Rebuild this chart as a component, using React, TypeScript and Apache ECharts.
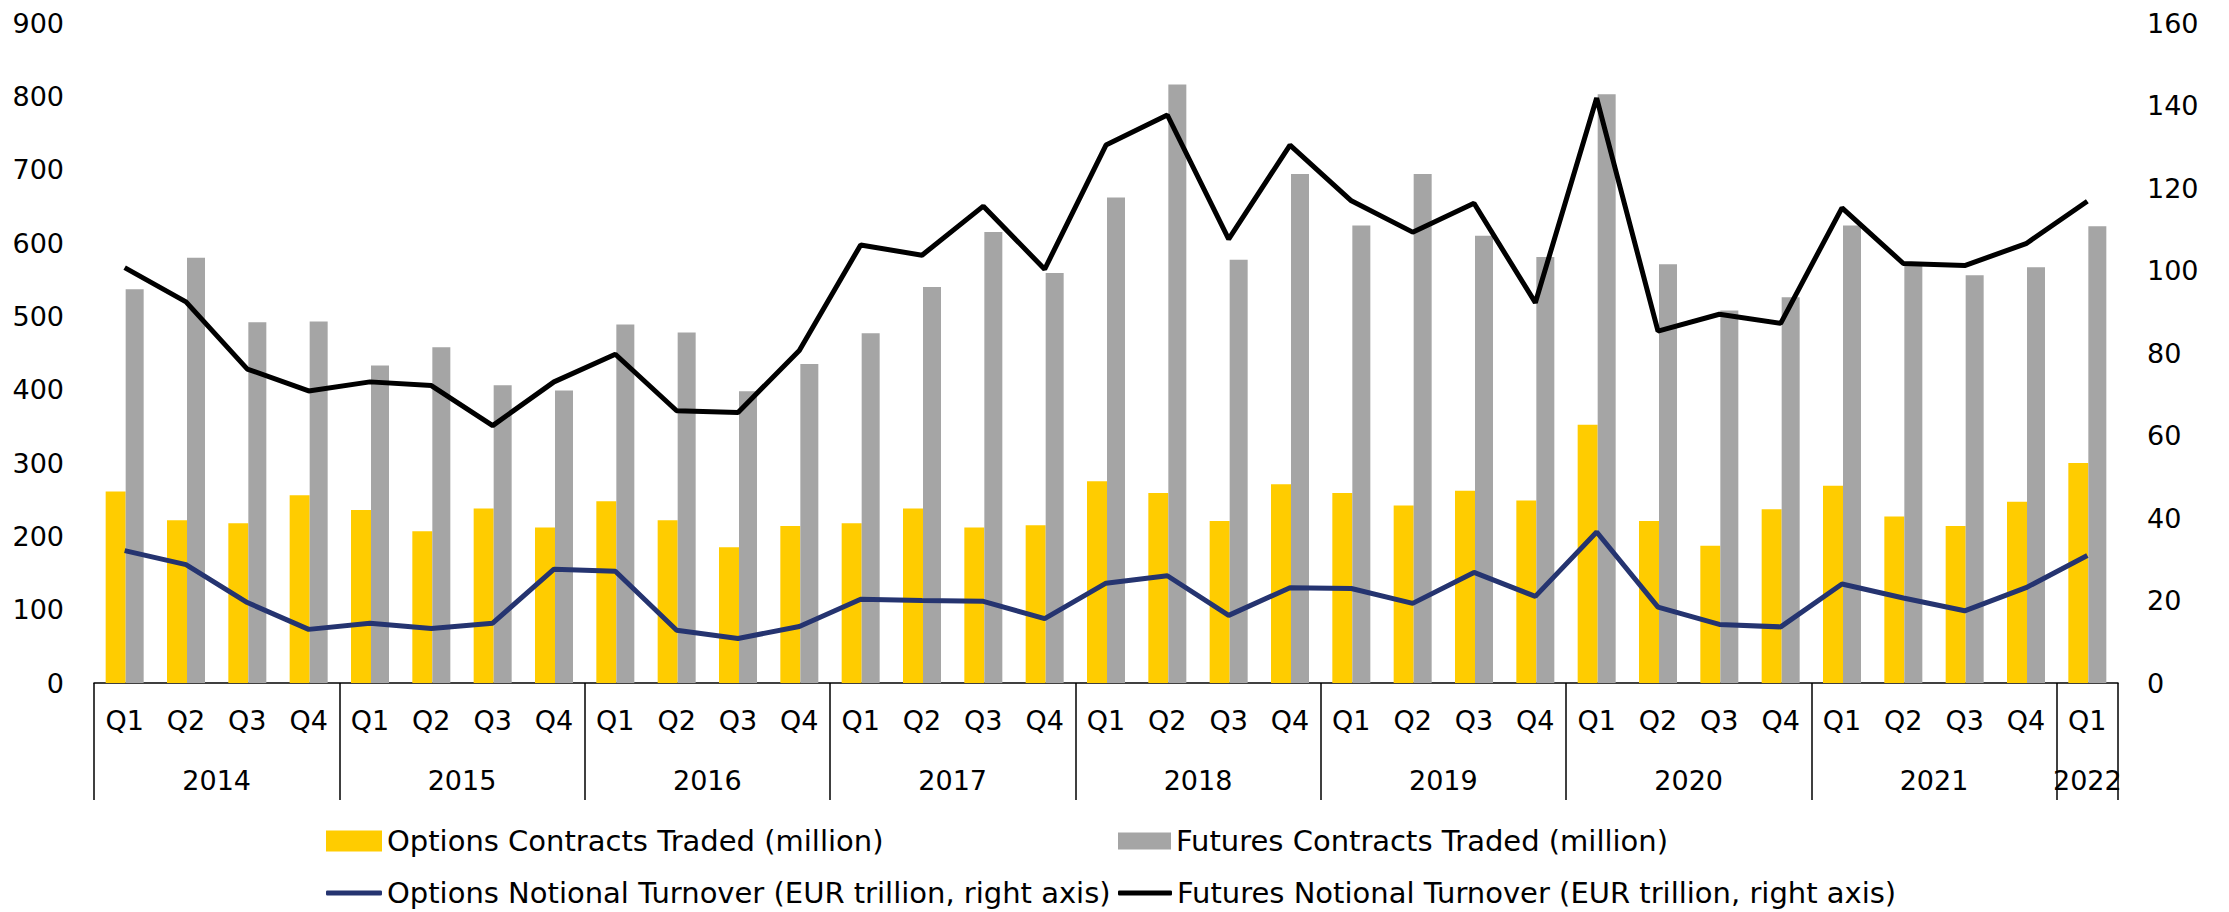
import React, { useEffect, useRef } from "react";
import * as echarts from "echarts";

const quarters = [
  "Q1","Q2","Q3","Q4","Q1","Q2","Q3","Q4","Q1","Q2","Q3","Q4",
  "Q1","Q2","Q3","Q4","Q1","Q2","Q3","Q4","Q1","Q2","Q3","Q4",
  "Q1","Q2","Q3","Q4","Q1","Q2","Q3","Q4","Q1",
];
const years = ["2014","2015","2016","2017","2018","2019","2020","2021","2022"];
const quartersPerYear = [4,4,4,4,4,4,4,4,1];

const optionsContracts = [
  261,222,218,256, 236,207,238,212, 248,222,185,214,
  218,238,212,215, 275,259,221,271, 259,242,262,249,
  352,221,187,237, 269,227,214,247, 300,
];
const futuresContracts = [
  537,580,492,493, 433,458,406,399, 489,478,398,435,
  477,540,615,559, 662,816,577,694, 624,694,610,581,
  803,571,508,526, 624,574,556,567, 623,
];
const optionsNotional = [
  32.1,28.7,19.5,13.0, 14.5,13.2,14.5,27.6, 27.1,12.8,10.8,13.7,
  20.3,20.0,19.8,15.6, 24.2,26.0,16.4,23.1, 22.9,19.3,26.8,21.0,
  36.6,18.4,14.2,13.6, 24.0,20.6,17.5,23.1, 30.9,
];
const futuresNotional = [
  100.7,92.4,76.1,70.8, 73.0,72.1,62.4,73.0, 79.7,66.0,65.6,80.6,
  106.2,103.7,115.6,100.3, 130.4,137.7,107.6,130.4, 116.9,109.3,116.3,92.2,
  141.8,85.3,89.4,87.2, 115.2,101.7,101.2,106.5, 116.8,
];

const seriesNames = [
  "Options Contracts Traded (million)",
  "Futures Contracts Traded (million)",
  "Options Notional Turnover (EUR trillion, right axis)",
  "Futures Notional Turnover (EUR trillion, right axis)",
];

const FONT = "DejaVu Sans";
const FS = 27;

export default function App() {
  const ref = useRef<HTMLDivElement>(null);
  useEffect(() => {
    if (!ref.current) return;
    const chart = echarts.init(ref.current, null, { renderer: "svg" });

    const boundaries: number[] = [0];
    const centers: number[] = [];
    let acc = 0;
    quartersPerYear.forEach((n) => {
      centers.push(acc + n / 2);
      acc += n;
      boundaries.push(acc);
    });

    const textBase = { fontFamily: FONT, fontSize: FS, color: "#000" };

    const legendCommon = {
      orient: "horizontal" as const,
      textStyle: { fontFamily: FONT, fontSize: 29, color: "#000", lineHeight: 30 },
      selectedMode: false,
      itemGap: 0,
    };

    chart.setOption({
      animation: false,
      backgroundColor: "#fff",
      grid: { left: 94, right: 111, top: 23, bottom: 229, containLabel: false },
      xAxis: [
        {
          type: "category",
          data: quarters,
          position: "bottom",
          axisLine: { show: true, onZero: false, lineStyle: { color: "#000", width: 1.5 } },
          axisTick: { show: false },
          axisLabel: { ...textBase, margin: 22, lineHeight: 30, interval: 0 },
          splitLine: { show: false },
        },
        {
          type: "value",
          min: 0,
          max: acc,
          position: "bottom",
          axisLine: { show: false, onZero: false },
          axisTick: {
            show: true,
            customValues: boundaries,
            length: 117,
            lineStyle: { color: "#000", width: 1.5 },
          },
          axisLabel: {
            ...textBase,
            margin: 82,
            lineHeight: 30,
            customValues: centers,
            formatter: (v: number) => {
              const i = centers.findIndex((c) => Math.abs(c - v) < 1e-6);
              return i >= 0 ? years[i] : "";
            },
          },
          splitLine: { show: false },
        },
      ],
      yAxis: [
        {
          type: "value",
          min: 0,
          max: 900,
          interval: 100,
          axisLine: { show: false },
          axisTick: { show: false },
          splitLine: { show: false },
          axisLabel: { ...textBase, margin: 30 },
        },
        {
          type: "value",
          min: 0,
          max: 160,
          interval: 20,
          position: "right",
          axisLine: { show: false },
          axisTick: { show: false },
          splitLine: { show: false },
          axisLabel: { ...textBase, margin: 29 },
        },
      ],
      legend: [
        { ...legendCommon, data: [{ name: seriesNames[0], icon: "rect" }], left: 321, top: 821, itemWidth: 56, itemHeight: 21 },
        { ...legendCommon, data: [{ name: seriesNames[1], icon: "rect" }], left: 1113, top: 821, itemWidth: 53, itemHeight: 17 },
        { ...legendCommon, data: [{ name: seriesNames[2], icon: "roundRect" }], left: 321, top: 873, itemWidth: 56, itemHeight: 5 },
        { ...legendCommon, data: [{ name: seriesNames[3], icon: "roundRect" }], left: 1113, top: 873, itemWidth: 54, itemHeight: 5 },
      ],
      series: [
        {
          name: seriesNames[0],
          type: "bar",
          xAxisIndex: 0,
          yAxisIndex: 0,
          data: optionsContracts,
          barWidth: 20,
          barGap: "0%",
          itemStyle: { color: "#FFCC00" },
        },
        {
          name: seriesNames[1],
          type: "bar",
          xAxisIndex: 0,
          yAxisIndex: 0,
          data: futuresContracts,
          barWidth: 18,
          barGap: "0%",
          itemStyle: { color: "#A5A5A5" },
        },
        {
          name: seriesNames[2],
          type: "line",
          xAxisIndex: 0,
          yAxisIndex: 1,
          data: optionsNotional,
          symbol: "none",
          lineStyle: { color: "#253470", width: 5 },
          itemStyle: { color: "#253470" },
        },
        {
          name: seriesNames[3],
          type: "line",
          xAxisIndex: 0,
          yAxisIndex: 1,
          data: futuresNotional,
          symbol: "none",
          lineStyle: { color: "#000", width: 5 },
          itemStyle: { color: "#000" },
        },
      ],
    });
    return () => chart.dispose();
  }, []);

  return (
    <div
      ref={ref}
      style={{ position: "fixed", left: 0, top: 0, width: 2229, height: 912, background: "#fff" }}
    />
  );
}
